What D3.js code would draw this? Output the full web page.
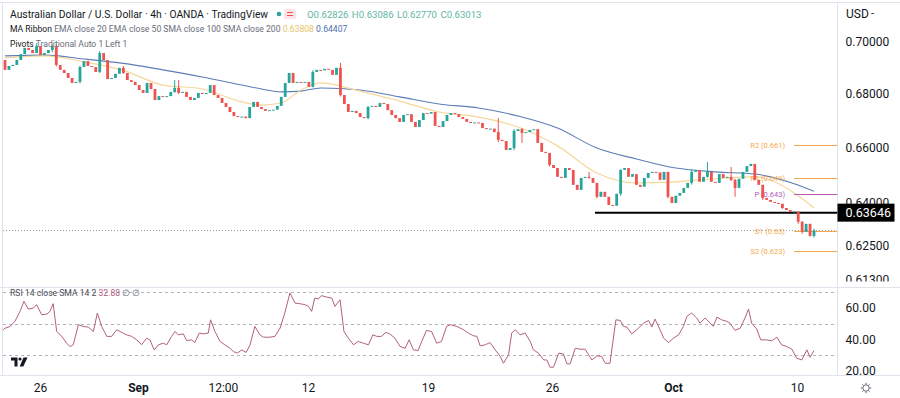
<!DOCTYPE html>
<html>
<head>
<meta charset="utf-8">
<script src="https://cdn.jsdelivr.net/npm/d3@7"></script>
<style>
  body { margin: 0; background: #fff; }
  svg { display: block; }
  text { font-family: Roboto, "Noto Sans", sans-serif; }
</style>
</head>
<body>
<svg id="chart" width="900" height="398"></svg>
<script>
// AUD/USD 4h candles (open of a bar = close of the one before)
const firstOpen = 0.6930;
const closes = [
  0.6892, 0.6907, 0.6911, 0.6930, 0.6953, 0.6977, 0.6969, 0.6957, 0.6984, 0.6949,
  0.6957, 0.6969, 0.6984, 0.6911, 0.6892, 0.6880, 0.6861, 0.6842, 0.6846, 0.6903,
  0.6926, 0.6907, 0.6903, 0.6884, 0.6957, 0.6930, 0.6857, 0.6861, 0.6877, 0.6900,
  0.6880, 0.6853, 0.6846, 0.6834, 0.6815, 0.6804, 0.6842, 0.6819, 0.6777, 0.6792,
  0.6789, 0.6792, 0.6808, 0.6823, 0.6804, 0.6808, 0.6789, 0.6777, 0.6785, 0.6804,
  0.6800, 0.6804, 0.6834, 0.6796, 0.6785, 0.6766, 0.6751, 0.6732, 0.6717, 0.6713,
  0.6715, 0.6709, 0.6751, 0.6770, 0.6751, 0.6743, 0.6736, 0.6739, 0.6741, 0.6755,
  0.6789, 0.6842, 0.6880, 0.6842, 0.6846, 0.6844, 0.6846, 0.6827, 0.6884, 0.6892,
  0.6890, 0.6896, 0.6892, 0.6873, 0.6900, 0.6796, 0.6762, 0.6732, 0.6736, 0.6728,
  0.6713, 0.6709, 0.6751, 0.6755, 0.6751, 0.6766, 0.6762, 0.6739, 0.6721, 0.6709,
  0.6695, 0.6721, 0.6724, 0.6695, 0.6676, 0.6702, 0.6728, 0.6726, 0.6732, 0.6680,
  0.6676, 0.6698, 0.6721, 0.6728, 0.6724, 0.6713, 0.6706, 0.6695, 0.6691, 0.6693,
  0.6691, 0.6672, 0.6668, 0.6670, 0.6657, 0.6628, 0.6624, 0.6591, 0.6598, 0.6661,
  0.6668, 0.6654, 0.6657, 0.6665, 0.6668, 0.6617, 0.6584, 0.6580, 0.6536, 0.6525,
  0.6493, 0.6489, 0.6525, 0.6518, 0.6464, 0.6446, 0.6489, 0.6493, 0.6489, 0.6471,
  0.6421, 0.6439, 0.6421, 0.6392, 0.6389, 0.6432, 0.6518, 0.6525, 0.6493, 0.6503,
  0.6464, 0.6457, 0.6489, 0.6507, 0.6511, 0.6509, 0.6482, 0.6511, 0.6421, 0.6399,
  0.6425, 0.6435, 0.6453, 0.6471, 0.6511, 0.6518, 0.6475, 0.6493, 0.6511, 0.6475,
  0.6471, 0.6503, 0.6489, 0.6493, 0.6482, 0.6453, 0.6486, 0.6511, 0.6532, 0.6540,
  0.6482, 0.6464, 0.6417, 0.6410, 0.6403, 0.6399, 0.6396, 0.6381, 0.6374, 0.6367,
  0.6369, 0.6332, 0.6297, 0.6325, 0.62826, 0.63013
];
// visible wicks: [bar, high, low]
const wicks = [
  [8, 0.6995, 0.6975], [12, 0.6990, 0.6960], [13, 0.6992, 0.6905], [19, 0.6908, 0.6840],
  [24, 0.6965, 0.6880], [30, 0.6907, 0.6877], [43, 0.6853, 0.6804], [44, 0.6853, 0.6800],
  [78, 0.6890, 0.6825], [85, 0.6919, 0.6790], [92, 0.6755, 0.6705], [125, 0.6709, 0.6620],
  [129, 0.6668, 0.6590], [131, 0.6672, 0.6617], [138, 0.6580, 0.6530], [148, 0.6511, 0.6486],
  [150, 0.6471, 0.6415], [156, 0.6520, 0.6425], [168, 0.6511, 0.6415], [174, 0.6520, 0.6465],
  [178, 0.6547, 0.6490], [184, 0.6529, 0.6478], [185, 0.6486, 0.6421], [192, 0.6464, 0.6410],
  [197, 0.6396, 0.6378], [201, 0.6369, 0.6325], [202, 0.6335, 0.6290], [204, 0.6325, 0.6280],
  [205, 0.63086, 0.62770]
];

// MA ribbon, sampled along the bars
const maBars = [0, 10, 20, 30, 40, 50, 60, 65, 70, 75, 80, 90, 100, 110, 120, 130, 140, 150, 160, 170, 180, 190, 200, 205];
const ema20 = [0.6938, 0.6946, 0.6923, 0.6890, 0.6834, 0.6819, 0.6770, 0.6758, 0.6766, 0.6815, 0.6842, 0.6811,
  0.6773, 0.6732, 0.6713, 0.6676, 0.6606, 0.6507, 0.6471, 0.6475, 0.6486, 0.6493, 0.6435, 0.63808];
const ema50 = [0.6946, 0.6949, 0.6934, 0.6917, 0.6892, 0.6865, 0.6834, 0.6819, 0.6808, 0.6811, 0.6823, 0.6815,
  0.6789, 0.6762, 0.6747, 0.6717, 0.6672, 0.6598, 0.6558, 0.6525, 0.6511, 0.6503, 0.6468, 0.64407];

// RSI 14: [bar position, value]
const rsi = [
  [-1.3, 44.0], [0, 47.1], [1.3, 48.2], [2.5, 51.4], [3.8, 57.7], [4.8, 64.1], [5.9, 59.2], [7.2, 59.8],
  [8.0, 62.0], [9.3, 55.6], [10.6, 56.0], [11.4, 57.7], [12.2, 62.6], [13.1, 45.0], [14.4, 41.9], [15.6, 37.6],
  [16.5, 35.5], [17.3, 36.6], [18.6, 49.3], [19.8, 48.2], [21.1, 47.8], [22.4, 45.0], [23.4, 56.7], [24.5, 48.2],
  [25.8, 41.9], [27.0, 41.9], [28.3, 46.1], [29.6, 44.4], [30.8, 42.9], [32.1, 41.9], [33.4, 39.7], [34.6, 36.6],
  [35.9, 40.8], [36.7, 39.7], [37.8, 33.4], [38.9, 36.6], [40.1, 37.6], [41.0, 36.6], [42.2, 41.9], [43.1, 45.0],
  [43.9, 42.9], [45.2, 43.5], [46.0, 39.3], [47.3, 39.7], [48.1, 38.0], [49.2, 44.0], [50.3, 43.5], [51.5, 44.0],
  [52.1, 52.4], [53.2, 45.0], [54.5, 38.7], [55.7, 36.6], [57.0, 34.4], [57.9, 32.3], [58.9, 31.3], [60.0, 33.4],
  [61.1, 31.7], [62.1, 36.6], [63.3, 48.2], [64.6, 42.9], [65.5, 41.4], [67.1, 41.4], [68.4, 41.9], [69.7, 47.1],
  [70.9, 56.7], [72.2, 69.4], [73.5, 63.0], [74.7, 62.6], [76.0, 62.0], [76.9, 60.9], [77.7, 57.7], [78.5, 66.2],
  [79.4, 65.6], [80.2, 67.7], [81.5, 66.8], [82.8, 66.2], [83.6, 60.9], [84.9, 65.1], [85.9, 45.0], [87.0, 40.8],
  [88.3, 36.6], [89.5, 38.7], [90.8, 37.6], [92.1, 36.6], [93.2, 42.9], [94.2, 41.9], [95.4, 41.9], [96.5, 44.4],
  [97.5, 43.5], [98.8, 40.8], [100.1, 35.5], [101.4, 34.4], [102.4, 39.7], [103.5, 33.4], [104.7, 33.0], [105.6, 38.7],
  [106.8, 45.7], [108.1, 45.0], [109.4, 37.6], [110.6, 38.7], [111.9, 48.2], [112.8, 49.3], [114.5, 48.2], [116.2, 46.1],
  [117.4, 44.0], [118.7, 42.3], [119.6, 41.9], [120.4, 35.9], [121.7, 36.6], [122.9, 38.0], [124.2, 33.4], [125.5, 29.2],
  [126.3, 24.9], [127.6, 30.2], [128.4, 44.0], [129.3, 46.1], [130.5, 42.9], [131.8, 44.0], [133.1, 38.7], [133.9, 33.4],
  [135.2, 31.3], [136.5, 27.0], [137.3, 27.0], [138.1, 22.4], [139.0, 22.4], [140.3, 31.3], [141.5, 30.8], [142.4, 24.5],
  [143.2, 24.5], [144.5, 34.4], [145.7, 33.8], [147.0, 33.8], [147.9, 30.2], [148.7, 27.0], [150.0, 29.6], [151.2, 29.2],
  [152.1, 24.9], [153.3, 24.9], [154.8, 52.4], [155.9, 52.0], [156.7, 48.2], [157.6, 47.8], [158.8, 43.5], [160.1, 46.1],
  [161.8, 50.3], [163.1, 52.0], [163.9, 47.8], [164.7, 52.9], [166.0, 46.1], [166.9, 40.8], [168.1, 38.0], [169.4, 40.8],
  [170.7, 42.9], [171.9, 48.2], [172.8, 54.6], [174.0, 56.7], [175.3, 53.5], [176.1, 50.3], [177.4, 53.5], [178.7, 50.3],
  [179.5, 48.2], [180.4, 54.1], [181.6, 52.4], [182.9, 51.4], [183.7, 50.3], [185.0, 45.7], [186.3, 47.1], [187.5, 53.5],
  [188.4, 59.2], [189.2, 50.3], [190.5, 46.5], [191.5, 39.7], [193.0, 39.7], [194.3, 39.1], [195.6, 41.4], [196.8, 36.6],
  [198.1, 35.5], [199.4, 33.8], [200.6, 28.1], [201.9, 27.0], [203.2, 33.4], [204.0, 28.7], [205.0, 32.88]
];

const priceTicks = [0.70, 0.68, 0.66, 0.64, 0.625, 0.613];
const rsiTicks = [60, 40, 20];
const rsiLevels = [70, 50, 30];
const timeTicks = [8.9, 33.7, 55.2, 76.8, 107.2, 138.6, 169.3, 200.7];
const timeLabels = ["26", "Sep", "12:00", "12", "19", "26", "Oct", "10"];
const pivotNames = ["R2", "R1", "P", "S1", "S2"];
const pivotValues = [0.661, 0.649, 0.643, 0.63, 0.623];
const supportLevel = 0.63646;
const supportFrom = 149.5; // bar where the drawn support line starts
const ohlc = ["O0.62826", "H0.63086", "L0.62770", "C0.63013"];

const UP = "#26a69a", DOWN = "#ef5350", TXT = "#131722", GRID = "#e0e3eb";

const svg = d3.select("#chart");
const axisX = 837.5, paneTop = 3, paneBottom = 287.5, rsiBottom = 375.5;

const x = d3.scaleLinear().domain([0, closes.length - 1]).range([5, 814]);
const y = d3.scaleLog().domain([0.613, 0.70]).range([280, 42]);
const yr = d3.scaleLinear().domain([20, 70]).range([371, 292]);

const defs = svg.append("defs");
defs.append("clipPath").attr("id", "clipPrice")
  .append("rect").attr("x", 3).attr("y", paneTop).attr("width", axisX - 3).attr("height", paneBottom - paneTop);
defs.append("clipPath").attr("id", "clipRsi")
  .append("rect").attr("x", 3).attr("y", paneBottom).attr("width", axisX - 3).attr("height", rsiBottom - paneBottom);
// axis group is translated, so this rect is in its local coordinates
defs.append("clipPath").attr("id", "clipAxis")
  .append("rect").attr("x", 0).attr("y", 0).attr("width", 70).attr("height", 281.5);

// frame
svg.append("line").attr("x1", 0).attr("x2", 900).attr("y1", 2.5).attr("y2", 2.5).attr("stroke", GRID);
svg.append("line").attr("x1", 2.5).attr("x2", 2.5).attr("y1", 2.5).attr("y2", rsiBottom).attr("stroke", GRID);
svg.append("line").attr("x1", axisX).attr("x2", axisX).attr("y1", 2.5).attr("y2", rsiBottom).attr("stroke", GRID);
svg.append("line").attr("x1", 0).attr("x2", 900).attr("y1", paneBottom).attr("y2", paneBottom).attr("stroke", GRID);
svg.append("line").attr("x1", 0).attr("x2", 900).attr("y1", rsiBottom).attr("y2", rsiBottom).attr("stroke", GRID);

// ---------- price pane ----------
const price = svg.append("g").attr("clip-path", "url(#clipPrice)");

// last price dotted line
price.append("line")
  .attr("x1", 3).attr("x2", axisX)
  .attr("y1", y(closes[closes.length - 1])).attr("y2", y(closes[closes.length - 1]))
  .attr("stroke", "#9598a1").attr("stroke-dasharray", "1,2");

// MA ribbon
const maLine = (vals) => d3.line()
  .x((d, i) => x(maBars[i]))
  .y(d => y(d))
  .curve(d3.curveMonotoneX)(vals);
price.append("path").attr("d", maLine(ema50)).attr("fill", "none").attr("stroke", "#5b7db6").attr("stroke-width", 1.1);
price.append("path").attr("d", maLine(ema20)).attr("fill", "none").attr("stroke", "#f6d79a").attr("stroke-width", 1.2);

// pivots
pivotNames.forEach((name, k) => {
  const col = name === "P" ? "#b45ab5" : "#f5a94d";
  const yy = Math.round(y(pivotValues[k])) + 0.5;
  price.append("line").attr("x1", 794).attr("x2", axisX).attr("y1", yy).attr("y2", yy)
    .attr("stroke", col).attr("stroke-width", 1.2);
  price.append("text").attr("x", 785).attr("y", yy).attr("dy", "0.35em")
    .attr("text-anchor", "end").attr("font-size", 7.5).attr("fill", col)
    .text(name + " (" + pivotValues[k] + ")");
});

// support line
price.append("line")
  .attr("x1", x(supportFrom)).attr("x2", axisX)
  .attr("y1", y(supportLevel)).attr("y2", y(supportLevel))
  .attr("stroke", "#000").attr("stroke-width", 2);

// candles
const bars = closes.map((c, i) => ({ i, o: i === 0 ? firstOpen : closes[i - 1], c }));
price.selectAll(".wick").data(wicks).enter().append("line")
  .attr("class", "wick")
  .attr("x1", d => x(d[0])).attr("x2", d => x(d[0]))
  .attr("y1", d => y(d[1])).attr("y2", d => y(d[2]))
  .attr("stroke", d => bars[d[0]].c >= bars[d[0]].o ? UP : DOWN).attr("stroke-width", 1);
price.selectAll(".body").data(bars).enter().append("rect")
  .attr("class", "body")
  .attr("x", d => x(d.i) - 1.4)
  .attr("width", 2.8)
  .attr("y", d => y(Math.max(d.o, d.c)))
  .attr("height", d => Math.max(1, y(Math.min(d.o, d.c)) - y(Math.max(d.o, d.c))))
  .attr("fill", d => d.c >= d.o ? UP : DOWN);

// price axis
const pAxis = svg.append("g")
  .attr("transform", `translate(${axisX},0)`)
  .attr("clip-path", "url(#clipAxis)")
  .call(d3.axisRight(y).tickValues(priceTicks).tickFormat(d3.format(".5f")).tickSize(0).tickPadding(8));
pAxis.select(".domain").remove();
pAxis.selectAll("text").attr("font-size", 12).attr("fill", TXT).attr("font-family", "Roboto, sans-serif");

svg.append("text").attr("x", 846).attr("y", 18).attr("font-size", 12).attr("fill", TXT).text("USD");
svg.append("text").attr("x", 871).attr("y", 17).attr("font-size", 11).attr("fill", TXT).text("-");

// support price label (sits over the 0.64000 tick like in the app)
svg.append("rect").attr("x", axisX).attr("y", y(supportLevel) - 9).attr("width", 57).attr("height", 18).attr("fill", "#000");
svg.append("text").attr("x", axisX + 8).attr("y", y(supportLevel)).attr("dy", "0.36em")
  .attr("font-size", 12.5).attr("fill", "#fff").text(d3.format(".5f")(supportLevel));

// legends
const h1 = svg.append("text").attr("x", 10).attr("y", 18).attr("font-size", 10.3).attr("fill", TXT);
h1.text("Australian Dollar / U.S. Dollar · 4h · OANDA · TradingView");
svg.append("circle").attr("cx", 279).attr("cy", 14).attr("r", 2.3).attr("fill", UP);
svg.append("rect").attr("x", 284).attr("y", 9).attr("width", 12).attr("height", 10).attr("rx", 2).attr("fill", "#fde4e6");
svg.append("line").attr("x1", 287).attr("x2", 293).attr("y1", 12.5).attr("y2", 12.5).attr("stroke", DOWN);
svg.append("line").attr("x1", 287).attr("x2", 293).attr("y1", 15.5).attr("y2", 15.5).attr("stroke", DOWN);
svg.append("text").attr("x", 307).attr("y", 18).attr("font-size", 9.6).attr("fill", "#5fb6a6")
  .attr("word-spacing", 1).text(ohlc.join(" "));

const h2 = svg.append("text").attr("x", 10).attr("y", 32).attr("font-size", 8.6).attr("fill", "#6a6d78");
h2.append("tspan").attr("fill", TXT).text("MA Ribbon ");
h2.append("tspan").text("EMA close 20 EMA close 50 SMA close 100 SMA close 200 ");
h2.append("tspan").attr("fill", "#e8c265").text(d3.format(".5f")(ema20[ema20.length - 1]) + " ");
h2.append("tspan").attr("fill", "#4e6fb0").text(d3.format(".5f")(ema50[ema50.length - 1]));
const h3 = svg.append("text").attr("x", 10).attr("y", 47).attr("font-size", 8.6).attr("fill", "#6a6d78");
h3.append("tspan").attr("fill", TXT).text("Pivots ");
h3.append("tspan").text("Traditional Auto 1 Left 1");

// ---------- RSI pane ----------
const rsiG = svg.append("g").attr("clip-path", "url(#clipRsi)");
rsiG.selectAll(".lvl").data(rsiLevels).enter().append("line")
  .attr("class", "lvl")
  .attr("x1", 3).attr("x2", axisX)
  .attr("y1", d => Math.round(yr(d)) + 0.5).attr("y2", d => Math.round(yr(d)) + 0.5)
  .attr("stroke", "#b2b5be").attr("stroke-dasharray", "3,3");
rsiG.append("path")
  .attr("d", d3.line().x(d => x(d[0])).y(d => yr(d[1]))(rsi))
  .attr("fill", "none").attr("stroke", "#b35f80").attr("stroke-width", 1);

const rAxis = svg.append("g")
  .attr("transform", `translate(${axisX},0)`)
  .call(d3.axisRight(yr).tickValues(rsiTicks).tickFormat(d3.format(".2f")).tickSize(0).tickPadding(8));
rAxis.select(".domain").remove();
rAxis.selectAll("text").attr("font-size", 12).attr("fill", TXT).attr("font-family", "Roboto, sans-serif");

const rl = svg.append("text").attr("x", 10).attr("y", 296).attr("font-size", 8.6).attr("fill", "#4a4d58");
rl.append("tspan").text("RSI 14 close SMA 14 2 ");
rl.append("tspan").attr("fill", "#b35f80").text(d3.format(".2f")(rsi[rsi.length - 1][1]));
rl.append("tspan").attr("fill", "#6a6d78").text(" \u2205 \u2205");

// TradingView mark
const logo = svg.append("g").attr("fill", "#131722");
logo.append("path").attr("d", "M11,357.5h6.5v9h-3v-6h-3.5z");
logo.append("circle").attr("cx", 20).attr("cy", 359).attr("r", 1.6);
logo.append("path").attr("d", "M23.5,357.5h4l-4.2,9h-3.6z");

// ---------- time axis ----------
const tAxis = svg.append("g")
  .attr("transform", `translate(0,${rsiBottom})`)
  .call(d3.axisBottom(x).tickValues(timeTicks).tickFormat((d, i) => timeLabels[i]).tickSize(0).tickPadding(8));
tAxis.select(".domain").remove();
tAxis.selectAll("text").attr("font-size", 12).attr("fill", TXT).attr("font-family", "Roboto, sans-serif")
  .attr("font-weight", (d, i) => (timeLabels[i] === "Sep" || timeLabels[i] === "Oct") ? 700 : 400);

// settings gear
const gear = svg.append("g").attr("transform", "translate(866,388)").attr("stroke", "#6a6d78").attr("fill", "none");
gear.append("circle").attr("r", 3.2);
d3.range(8).forEach(k => {
  const a = k * Math.PI / 4;
  gear.append("line").attr("x1", Math.cos(a) * 3.4).attr("y1", Math.sin(a) * 3.4)
    .attr("x2", Math.cos(a) * 5.2).attr("y2", Math.sin(a) * 5.2);
});
</script>
</body>
</html>
